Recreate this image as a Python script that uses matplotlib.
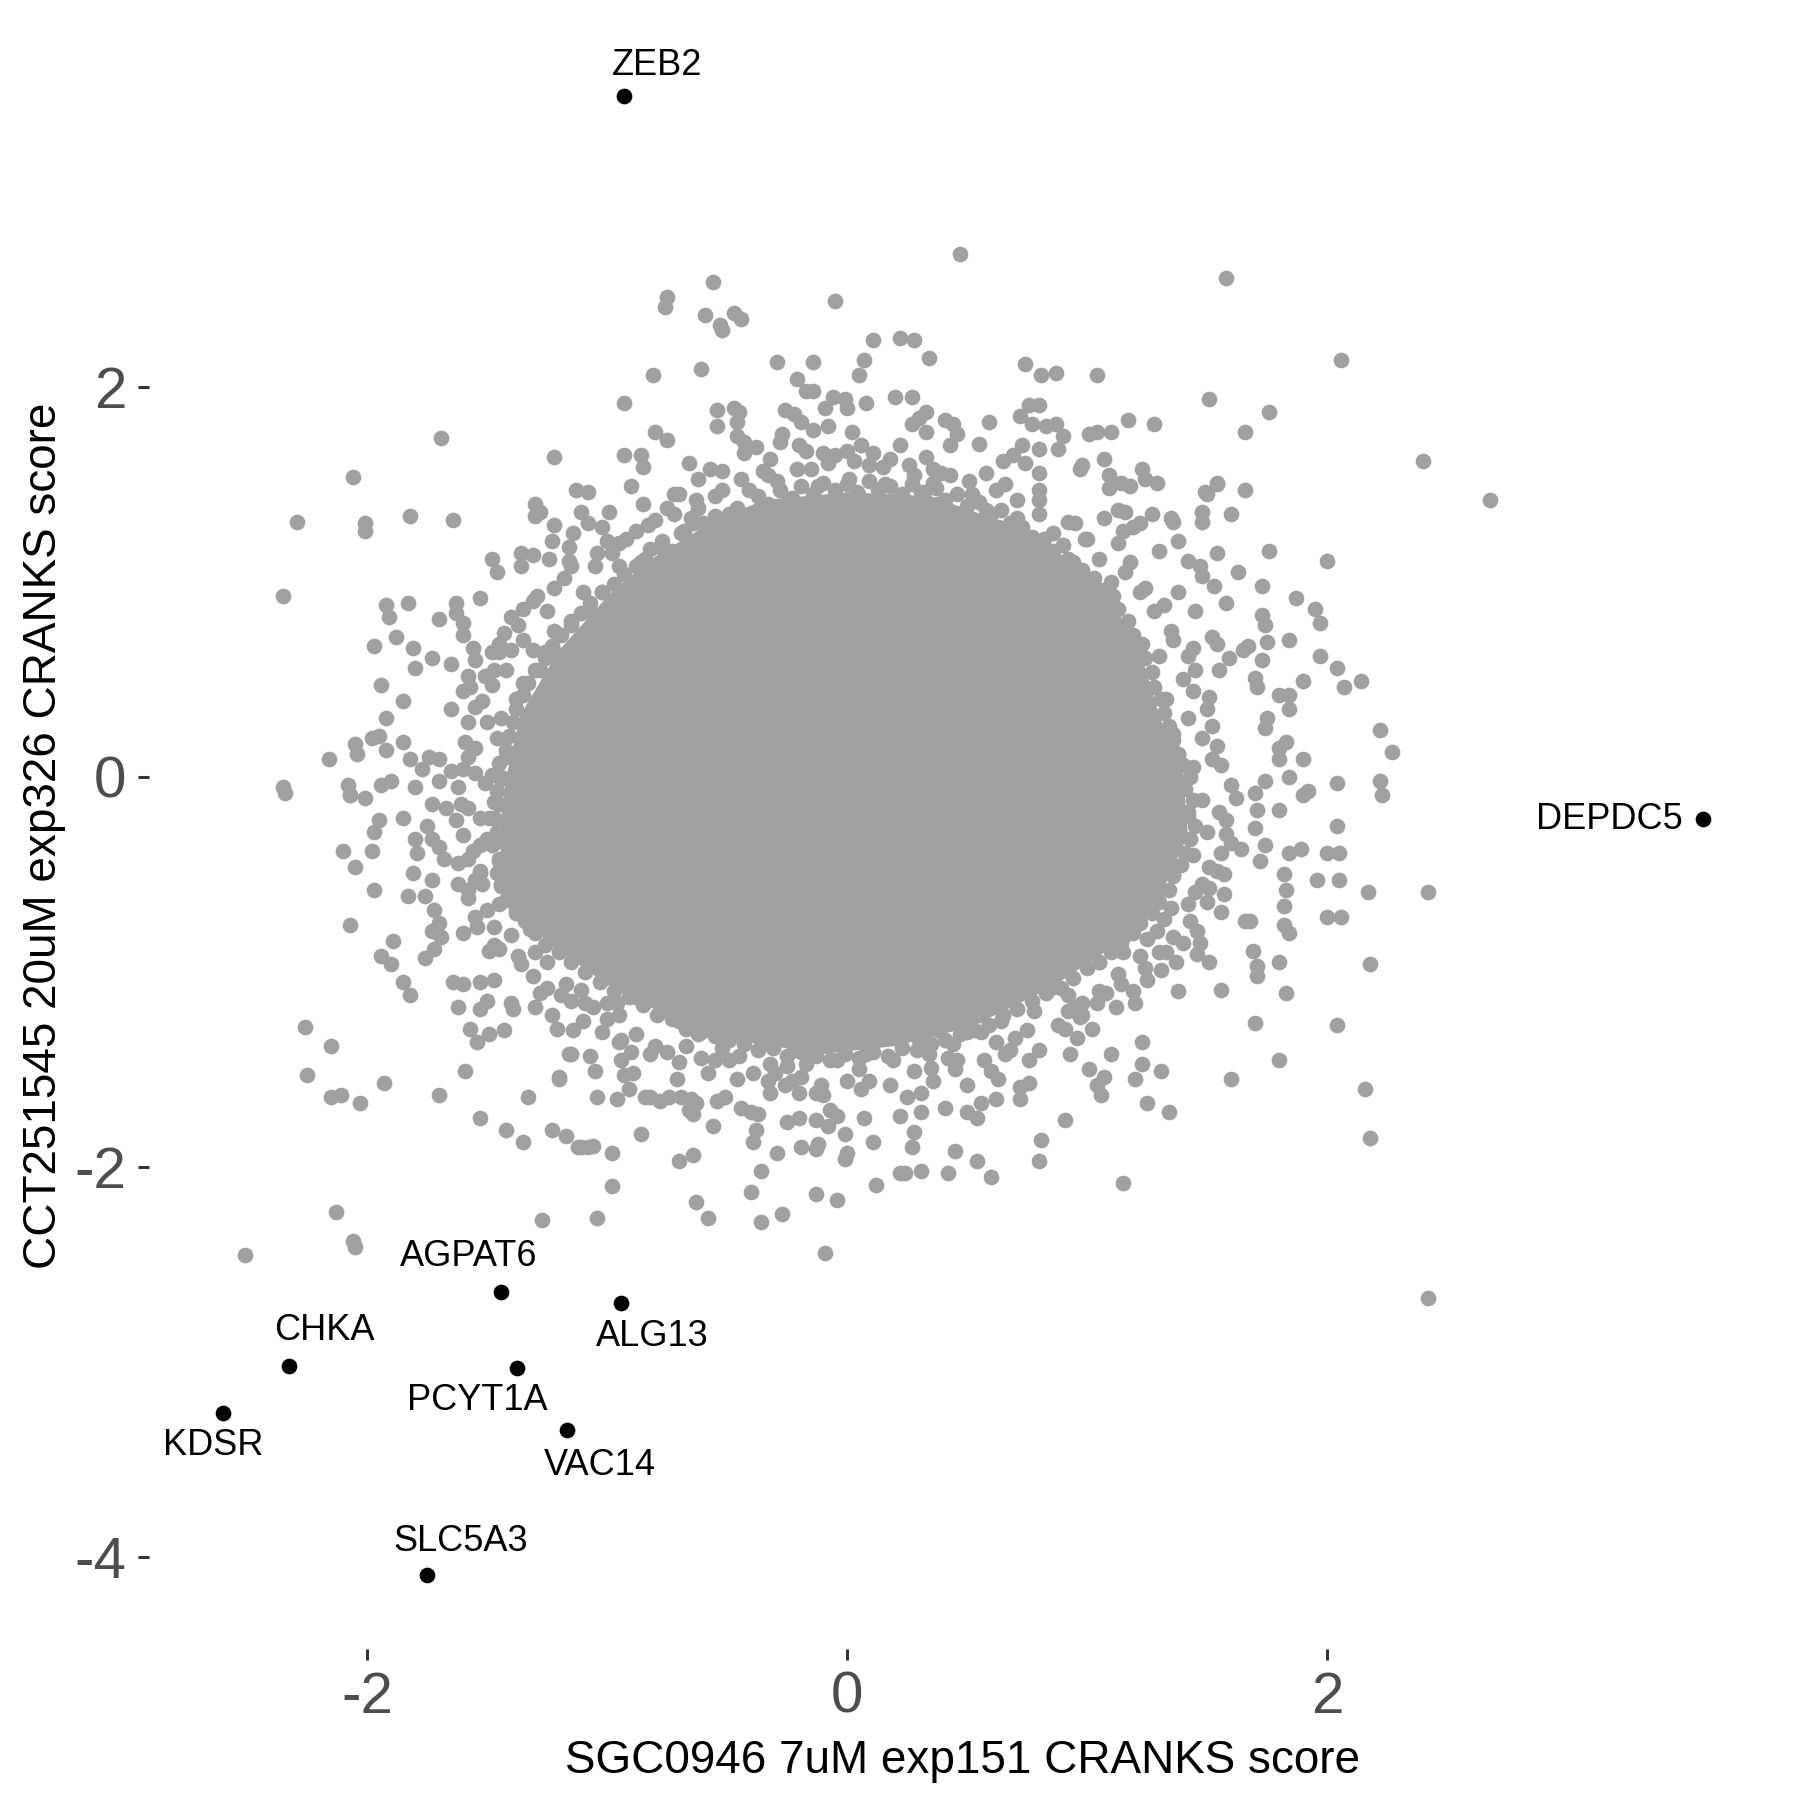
import matplotlib
matplotlib.use("Agg")
import matplotlib.pyplot as plt
import numpy as np

plt.rcParams['font.family'] = ['Liberation Sans', 'DejaVu Sans']
plt.rcParams['axes.unicode_minus'] = False

# labelled hits (x = SGC0946 score, y = CCT251545 score)
hit_genes = ["ZEB2", "DEPDC5", "AGPAT6", "ALG13", "CHKA", "PCYT1A", "KDSR", "VAC14", "SLC5A3"]
hit_x = [-0.93, 3.565, -1.44, -0.94, -2.325, -1.377, -2.60, -1.167, -1.75]
hit_y = [3.49, -0.215, -2.64, -2.70, -3.02, -3.03, -3.26, -3.35, -4.09]
# where the repelled labels ended up
label_x = [-0.79, 3.175, -1.575, -0.81, -2.18, -1.54, -2.64, -1.03, -1.61]
label_y = [3.65, -0.22, -2.46, -2.87, -2.84, -3.20, -3.43, -3.53, -3.92]

# outline of the solid grey core where the points overlap completely
core_outline = [(-0.60, 1.28), (-0.35, 1.42), (0.00, 1.46), (0.35, 1.44), (0.62, 1.32),
                (0.88, 1.15), (1.08, 0.95), (1.22, 0.65), (1.30, 0.32), (1.40, 0.02),
                (1.42, -0.30), (1.30, -0.62), (1.12, -0.86), (0.85, -1.08), (0.52, -1.28),
                (0.20, -1.38), (-0.10, -1.42), (-0.42, -1.36), (-0.66, -1.28), (-0.98, -1.08),
                (-1.24, -0.86), (-1.42, -0.62), (-1.45, -0.30), (-1.42, 0.00), (-1.36, 0.32),
                (-1.20, 0.65), (-0.98, 0.95), (-0.80, 1.13)]

# genes sitting on the ragged edge of the core
edge_pts = [(-0.82, 1.17), (-0.77, 1.21), (-0.73, 1.16), (-0.69, 1.25), (-0.64, 1.30), (-0.60, 1.24),
            (-0.55, 1.34), (-0.50, 1.31), (-0.46, 1.38), (-0.41, 1.35), (-0.37, 1.44), (-0.33, 1.40),
            (-0.28, 1.47), (-0.23, 1.43), (-0.19, 1.49), (-0.14, 1.45), (-0.10, 1.51), (-0.05, 1.47),
            (0.00, 1.50), (0.04, 1.46), (0.09, 1.52), (0.13, 1.47), (0.18, 1.49), (0.23, 1.45),
            (0.27, 1.50), (0.32, 1.46), (0.37, 1.48), (0.41, 1.42), (0.46, 1.45), (0.50, 1.39),
            (0.55, 1.41), (0.60, 1.35), (0.64, 1.37), (0.68, 1.30), (0.73, 1.28), (0.77, 1.23),
            (0.82, 1.22), (0.86, 1.16), (0.90, 1.19),
            (0.94, 1.10), (0.98, 1.06), (1.03, 1.02), (1.06, 0.96), (1.11, 0.93), (1.13, 0.86),
            (1.17, 0.80), (1.19, 0.73), (1.23, 0.68), (1.24, 0.61), (1.27, 0.54), (1.28, 0.46),
            (1.31, 0.40), (1.32, 0.33), (1.34, 0.26), (1.36, 0.19), (1.38, 0.12), (1.40, 0.06),
            (1.43, 0.00), (1.41, -0.06), (1.44, -0.12), (1.42, -0.18), (1.45, -0.25), (1.43, -0.32),
            (1.41, -0.39), (1.39, -0.45), (1.36, -0.51), (1.34, -0.58), (1.30, -0.64), (1.27, -0.70),
            (1.22, -0.75), (1.19, -0.80), (1.14, -0.85), (1.10, -0.90),
            (1.05, -0.95), (1.00, -0.98), (0.94, -1.03), (0.89, -1.08), (0.83, -1.11), (0.77, -1.15),
            (0.71, -1.19), (0.65, -1.22), (0.59, -1.27), (0.53, -1.30), (0.47, -1.32), (0.41, -1.35),
            (0.35, -1.37), (0.29, -1.40), (0.23, -1.39), (0.17, -1.43), (0.11, -1.41), (0.05, -1.44),
            (-0.01, -1.42), (-0.07, -1.45), (-0.13, -1.43), (-0.19, -1.41), (-0.25, -1.43),
            (-0.31, -1.39), (-0.37, -1.40), (-0.43, -1.37), (-0.49, -1.35), (-0.55, -1.33),
            (-0.61, -1.31), (-0.67, -1.29), (-0.73, -1.24), (-0.79, -1.22), (-0.85, -1.17),
            (-0.91, -1.13), (-0.97, -1.10), (-1.03, -1.05), (-1.09, -1.00), (-1.15, -0.95),
            (-1.20, -0.90), (-1.26, -0.86),
            (-1.30, -0.80), (-1.34, -0.74), (-1.38, -0.68), (-1.42, -0.63), (-1.44, -0.56),
            (-1.46, -0.49), (-1.45, -0.42), (-1.48, -0.35), (-1.46, -0.28), (-1.47, -0.21),
            (-1.45, -0.14), (-1.46, -0.07), (-1.44, 0.00), (-1.45, 0.07), (-1.42, 0.14), (-1.41, 0.21),
            (-1.39, 0.28), (-1.38, 0.35), (-1.35, 0.42), (-1.33, 0.48), (-1.30, 0.55), (-1.26, 0.61),
            (-1.23, 0.67), (-1.19, 0.73), (-1.15, 0.78), (-1.11, 0.84), (-1.07, 0.89), (-1.02, 0.95),
            (-0.97, 0.99), (-0.93, 1.04), (-0.88, 1.08), (-0.84, 1.12),
            (-0.72, 1.35), (-0.63, 1.42), (-0.52, 1.47), (-0.44, 1.53), (-0.33, 1.55), (-0.21, 1.58),
            (-0.08, 1.61), (0.03, 1.62), (0.15, 1.59), (0.26, 1.60), (0.39, 1.56), (0.51, 1.52),
            (0.62, 1.47), (0.71, 1.42), (0.80, 1.35), (0.92, 1.31), (0.99, 1.22), (-0.88, 1.26),
            (-0.95, 1.20), (-1.04, 1.15),
            (1.16, 1.05), (1.24, 0.97), (1.32, 0.88), (1.36, 0.70), (1.42, 0.62), (1.44, 0.44),
            (1.50, 0.35), (1.52, 0.26), (1.56, 0.06), (1.60, -0.04), (1.58, -0.22), (1.60, -0.34),
            (1.54, -0.48), (1.50, -0.64), (1.43, -0.74), (1.36, -0.82), (1.30, -0.90), (1.24, -0.98),
            (1.14, -1.06), (1.05, -1.10), (0.98, -1.22), (0.88, -1.27), (0.75, -1.30), (0.68, -1.40),
            (0.57, -1.45), (0.45, -1.50), (0.36, -1.56), (0.18, -1.58), (0.06, -1.60), (-0.11, -1.58),
            (-0.20, -1.62), (-0.33, -1.56), (-0.46, -1.55), (-0.58, -1.52), (-0.70, -1.46),
            (-0.82, -1.42), (-0.88, -1.32), (-1.00, -1.24), (-1.10, -1.25), (-1.19, -1.12),
            (-1.31, -1.02), (-1.36, -0.96),
            (-1.47, -0.86), (-1.55, -0.72), (-1.58, -0.58), (-1.62, -0.44), (-1.61, -0.14),
            (-1.58, 0.10), (-1.55, 0.36), (-1.51, 0.52), (-1.45, 0.68), (-1.37, 0.78), (-1.31, 0.90),
            (-1.22, 0.97), (-1.15, 1.08), (-1.24, 1.12), (-1.02, 1.28)]

# individual genes around the core
top_pts = [(0.47, 2.68), (-0.56, 2.54), (1.58, 2.56), (-0.75, 2.46), (-0.76, 2.41), (-0.05, 2.44),
           (-0.59, 2.37), (-0.47, 2.38), (-0.44, 2.35), (-0.53, 2.32), (-0.52, 2.29),
           (0.11, 2.24), (0.22, 2.25), (0.28, 2.24), (0.34, 2.15),
           (-0.81, 2.06), (-0.61, 2.09), (-0.29, 2.13), (-0.14, 2.13), (0.07, 2.14), (0.05, 2.06),
           (-0.21, 2.04), (-0.17, 1.98), (-0.14, 1.98),
           (0.74, 2.12), (0.81, 2.06), (0.87, 2.07), (1.04, 2.06), (2.06, 2.14),
           (-0.93, 1.92), (1.51, 1.94), (1.76, 1.87), (1.66, 1.77), (2.40, 1.62), (2.68, 1.42),
           (-1.69, 1.74), (-2.06, 1.54), (-1.22, 1.64),
           (-2.29, 1.31), (-2.01, 1.30), (-2.01, 1.26), (-1.82, 1.34), (-1.64, 1.32), (-2.35, 0.93),
           (-0.09, 1.89), (-0.06, 1.95), (-0.01, 1.94), (0.00, 1.89), (0.08, 1.92), (0.20, 1.95),
           (-0.54, 1.88), (-0.54, 1.80), (-0.47, 1.89), (-0.45, 1.87), (-0.46, 1.82),
           (-0.80, 1.77), (-0.75, 1.73),
           (-0.26, 1.88), (-0.22, 1.86), (-0.19, 1.82), (-0.14, 1.78), (-0.27, 1.76), (-0.28, 1.72),
           (-0.08, 1.80), (0.02, 1.77),
           (-0.93, 1.65), (-0.86, 1.65), (-0.85, 1.59),
           (-0.66, 1.61), (-0.62, 1.53), (-0.57, 1.58), (-0.52, 1.57),
           (-0.46, 1.75), (-0.43, 1.72), (-0.38, 1.69), (-0.43, 1.66), (-0.32, 1.63),
           (-0.20, 1.70), (-0.17, 1.67), (-0.10, 1.66), (-0.05, 1.65), (0.00, 1.67), (0.06, 1.70), (0.11, 1.66),
           (-1.13, 1.47), (-1.08, 1.46), (-1.11, 1.36), (-1.08, 1.30),
           (-1.30, 1.40), (-1.28, 1.36), (-1.30, 1.34),
           (-1.48, 1.12), (-1.46, 1.05), (-1.36, 1.15), (-1.31, 1.14), (-1.36, 1.08),
           (-1.22, 1.29), (-1.23, 1.21), (-1.14, 1.25), (-1.16, 1.18), (-1.16, 1.11),
           (-0.99, 1.36), (-1.00, 1.21), (-0.90, 1.49), (-0.85, 1.40),
           (-0.72, 1.45), (-0.70, 1.45), (-0.75, 1.38),
           (0.27, 1.95), (0.33, 1.87), (0.41, 1.83), (0.44, 1.81), (0.46, 1.76), (0.43, 1.70),
           (0.27, 1.81), (0.22, 1.70), (0.59, 1.82), (0.55, 1.71),
           (0.76, 1.91), (0.80, 1.91), (0.72, 1.85), (0.77, 1.81), (0.83, 1.80), (0.87, 1.81),
           (0.90, 1.75), (0.88, 1.68), (0.80, 1.68), (0.73, 1.70), (0.69, 1.65), (0.74, 1.61),
           (1.01, 1.76), (1.04, 1.77), (1.10, 1.77), (1.17, 1.83), (1.28, 1.81), (1.07, 1.63),
           (0.98, 1.60), (0.97, 1.58),
           (1.09, 1.55), (1.09, 1.48), (1.14, 1.51), (1.18, 1.49), (1.23, 1.58), (1.24, 1.53),
           (1.29, 1.51), (1.49, 1.46), (1.54, 1.51), (1.48, 1.36), (1.48, 1.31), (1.60, 1.35),
           (1.66, 1.47), (1.54, 1.50), (1.50, 1.45),
           (0.80, 1.56), (0.80, 1.47), (0.80, 1.42),
           (0.30, 1.84), (0.33, 1.77), (0.18, 1.63), (0.28, 1.55), (0.33, 1.64), (0.36, 1.51),
           (-0.62, 1.38), (-0.55, 1.44), (-0.49, 1.35), (-0.41, 1.47), (-0.36, 1.39), (-0.29, 1.52),
           (-0.24, 1.42), (-0.18, 1.36), (-0.12, 1.49), (-0.06, 1.41), (0.01, 1.53), (0.05, 1.44),
           (0.12, 1.38), (0.16, 1.50), (0.21, 1.42), (0.27, 1.36), (0.31, 1.46), (0.38, 1.40),
           (0.43, 1.55), (0.47, 1.33), (0.52, 1.45), (0.58, 1.37), (0.63, 1.28), (0.66, 1.50),
           (0.71, 1.33), (0.75, 1.20), (0.86, 1.25), (0.92, 1.12), (0.55, 1.27), (-0.68, 1.26),
           (-0.78, 1.18), (-0.83, 1.29), (-0.95, 1.08), (-0.88, 0.98), (-1.02, 0.95), (-1.07, 0.85),
           (-0.60, 1.30), (-0.15, 1.58), (0.09, 1.60), (0.36, 1.58), (-0.35, 1.57), (0.58, 1.56),
           (0.65, 1.62)]

right_pts = [(1.07, 1.33), (1.13, 1.37), (1.16, 1.36), (1.19, 1.28), (1.15, 1.26), (1.13, 1.20),
             (1.22, 1.30), (1.27, 1.35), (1.35, 1.33), (1.36, 1.31), (1.30, 1.16), (1.38, 1.21),
             (1.54, 1.15), (1.76, 1.16), (2.00, 1.11), (1.63, 1.05), (1.73, 0.98), (1.87, 0.92),
             (1.95, 0.86), (1.97, 0.79), (1.84, 0.70), (1.97, 0.62), (2.04, 0.56), (2.07, 0.46),
             (2.14, 0.49), (1.90, 0.49),
             (2.22, 0.24), (2.27, 0.13), (2.04, -0.03), (2.22, -0.02), (2.23, -0.09), (2.04, -0.25),
             (1.90, -0.09), (1.92, -0.07), (1.84, 0.00), (1.90, 0.09), (1.83, 0.18), (1.80, 0.15),
             (1.80, 0.09), (1.47, 1.08), (1.48, 1.03), (1.53, 0.98),
             (1.42, 1.11), (1.58, 0.89), (1.73, 0.83), (1.74, 0.78), (1.75, 0.69), (1.73, 0.60),
             (1.70, 0.51), (1.71, 0.46), (1.80, 0.42), (1.84, 0.42), (1.84, 0.35), (1.75, 0.30),
             (1.74, 0.25), (1.74, -0.02), (1.70, -0.08), (1.71, -0.17), (1.80, -0.17), (1.70, -0.26),
             (1.74, -0.35), (1.64, -0.37), (1.58, -0.29), (1.62, -0.11), (1.52, 0.09), (1.54, 0.16),
             (1.51, 0.41), (1.55, 0.55), (1.59, 0.61), (1.65, 0.65), (1.67, 0.67), (1.54, 0.68),
             (1.45, 0.55), (1.44, 0.66),
             (1.56, -0.39), (1.72, -0.43), (1.84, -0.39), (1.89, -0.37), (2.00, -0.39), (2.05, -0.39),
             (1.82, -0.50), (1.83, -0.58), (1.82, -0.66), (1.82, -0.76), (1.84, -0.80), (1.83, -1.11),
             (1.96, -0.53), (2.05, -0.53), (2.00, -0.72), (2.06, -0.72),
             (2.17, -0.59), (2.42, -0.59), (2.18, -0.96),
             (2.04, -1.27), (1.80, -1.45), (1.60, -1.55), (2.16, -1.60), (2.18, -1.85), (2.42, -2.67),
             (1.70, -1.26), (1.80, -0.95), (1.69, -0.89), (1.71, -0.97), (1.71, -1.02), (1.66, -0.74),
             (1.68, -0.74), (1.56, -1.09), (1.51, -0.95), (1.46, -0.79), (1.47, -0.85), (1.46, -0.91),
             (1.56, -0.69), (1.51, -0.57), (1.57, -0.60), (1.51, -0.46), (1.57, -0.50),
             (1.38, -1.10), (1.33, -0.90), (1.37, -0.95), (1.31, -0.99), (1.42, -0.65), (1.45, -0.59),
             (1.35, -0.67), (1.23, -1.36), (1.25, -1.67), (1.34, -1.72), (1.31, -1.51), (1.23, -1.47),
             (1.20, -1.55), (1.20, -1.16), (1.19, -1.10), (1.12, -1.18), (1.10, -1.42), (1.01, -1.50),
             (1.07, -1.54), (1.06, -1.63), (1.04, -1.58), (1.15, -2.08),
             (1.28, 0.85), (1.22, 0.95), (1.35, 0.75), (1.30, 0.62), (1.40, 0.50), (1.33, 0.40),
             (1.42, 0.30), (1.36, 0.22), (1.48, 0.20), (1.44, 0.05), (1.40, -0.05), (1.48, -0.12),
             (1.42, -0.20), (1.50, -0.28), (1.44, -0.40), (1.36, -0.50), (1.30, -0.58), (1.38, 0.95),
             (1.18, 1.10), (1.05, 1.12), (1.00, 1.22), (0.95, 1.30), (1.10, 1.00), (1.45, 0.85),
             (1.52, 0.72), (1.38, 0.12), (1.55, -0.18), (1.48, -0.55), (1.40, -0.85), (1.22, -0.92)]

bottom_pts = [(0.91, -1.76), (0.81, -1.86), (0.80, -1.97), (0.60, -2.05), (0.54, -1.97), (0.42, -2.03),
              (0.45, -1.92), (0.31, -2.02), (0.24, -2.03), (0.27, -1.90), (0.28, -1.82), (0.41, -1.70),
              (0.50, -1.72), (0.54, -1.75), (0.50, -1.58), (0.56, -1.67), (0.62, -1.65), (0.72, -1.65),
              (0.72, -1.59), (0.76, -1.57), (0.91, -1.29), (0.93, -1.42), (0.96, -1.34), (1.02, -1.29),
              (0.92, -1.20), (0.97, -1.23), (0.98, -1.16),
              (0.25, -1.31), (0.34, -1.42), (0.42, -1.44), (0.46, -1.45), (0.50, -1.31), (0.56, -1.31),
              (0.62, -1.36), (0.66, -1.42), (0.60, -1.51), (0.63, -1.55), (0.70, -1.34), (0.76, -1.45),
              (0.80, -1.40), (0.28, -1.51), (0.31, -1.62), (0.25, -1.64), (0.22, -1.74), (0.31, -1.72),
              (0.35, -1.49), (0.92, -1.12), (0.95, -1.18), (1.04, -1.16), (1.08, -1.11), (1.25, -1.04),
              (1.13, -1.01), (1.15, -0.90), (1.25, -0.83), (1.29, -0.79), (1.32, -0.73),
              (-0.71, -1.55), (-0.82, -1.64), (-0.78, -1.66), (-0.74, -1.64), (-0.69, -1.64),
              (-0.65, -1.65), (-0.63, -1.67), (-0.66, -1.71), (-0.64, -1.73), (-0.56, -1.79),
              (-0.54, -1.66), (-0.51, -1.64), (-0.44, -1.70), (-0.40, -1.72), (-0.37, -1.73),
              (-0.38, -1.81), (-0.39, -1.87), (-0.29, -1.93), (-0.36, -2.02), (-0.40, -2.13),
              (-0.36, -2.28), (-0.27, -2.24), (-0.25, -1.77), (-0.20, -1.75), (-0.13, -1.76),
              (-0.19, -1.90), (-0.13, -1.91), (-0.12, -1.88),
              (-0.13, -1.62), (-0.10, -1.63), (-0.07, -1.71), (-0.04, -1.74), (-0.08, -1.79),
              (-0.01, -1.83), (0.00, -1.93), (-0.01, -1.96), (0.07, -1.75), (0.11, -1.87), (0.12, -2.09),
              (-0.04, -2.17), (-0.13, -2.14), (-0.09, -2.44),
              (-0.32, -1.62), (-0.30, -1.52), (-0.26, -1.58), (-0.23, -1.56), (-0.19, -1.54),
              (-0.17, -1.47), (-0.14, -1.42), (-0.04, -1.45), (0.00, -1.56), (0.09, -1.56),
              (-0.64, -1.94), (-0.70, -1.97), (-0.63, -2.18), (-0.58, -2.26), (-0.86, -1.83),
              (-0.80, -1.38), (-0.75, -1.41), (-0.67, -1.38), (-0.61, -1.44), (-0.55, -1.45),
              (-0.49, -1.45), (-0.45, -1.43), (-0.39, -1.52), (-0.32, -1.47),
              (-0.98, -1.93), (-0.98, -2.10), (-1.04, -2.26), (-1.27, -2.27), (-2.05, -2.41),
              (-1.11, -1.90), (-1.06, -1.89), (0.22, -2.03),
              (-1.16, -1.42), (-1.07, -1.43), (-1.05, -1.51), (-1.20, -1.55), (-1.04, -1.64),
              (-0.96, -1.65), (-0.91, -1.60), (-0.89, -1.52), (-0.94, -1.45), (-0.95, -1.36),
              (-1.25, -1.08), (-1.28, -1.11), (-1.23, -1.22), (-1.21, -1.29), (-1.14, -1.30),
              (-1.15, -1.15), (-1.06, -1.18), (-1.02, -1.31), (-0.96, -1.16),
              (-0.55, -1.25), (-0.48, -1.33), (-0.42, -1.28), (-0.35, -1.36), (-0.28, -1.31),
              (-0.22, -1.40), (-0.15, -1.33), (-0.08, -1.38), (0.02, -1.35), (0.08, -1.42),
              (0.14, -1.33), (0.19, -1.45), (0.30, -1.35), (0.38, -1.30), (0.44, -1.37),
              (0.70, -1.12), (0.78, -1.20), (0.85, -1.08), (-0.70, -1.25), (-0.78, -1.20),
              (-0.88, -1.13), (-0.62, -1.32), (-0.52, -1.39), (0.05, -1.50), (-0.25, -1.48),
              (0.55, -1.22), (0.64, -1.25), (1.05, -0.95), (1.15, -0.82), (1.22, -0.70)]

left_pts = [(-1.53, 0.92), (-1.29, 0.93), (-1.35, 0.86), (-1.43, 0.74),
            (-1.92, 0.88), (-1.91, 0.82), (-1.83, 0.89), (-1.70, 0.81), (-1.63, 0.89), (-1.63, 0.84),
            (-1.60, 0.79), (-1.60, 0.73),
            (-1.88, 0.72), (-1.97, 0.67), (-1.81, 0.66), (-1.80, 0.56), (-1.73, 0.61), (-1.65, 0.58),
            (-1.56, 0.66), (-1.55, 0.60), (-1.60, 0.44), (-1.57, 0.46),
            (-1.94, 0.47), (-1.85, 0.39), (-1.92, 0.30),
            (-1.48, 0.64), (-1.45, 0.64), (-1.40, 0.65), (-1.35, 0.70), (-1.31, 0.65), (-1.26, 0.64),
            (-1.22, 0.64), (-1.35, 0.48), (-1.48, 0.47), (-1.52, 0.39), (-1.58, 0.28), (-1.50, 0.28),
            (-1.59, 0.18), (-1.55, 0.15),
            (-2.05, 0.17), (-2.04, 0.12), (-1.98, 0.20), (-1.95, 0.21), (-1.92, 0.14), (-1.85, 0.18),
            (-1.82, 0.09), (-1.77, 0.04), (-1.74, 0.10), (-1.70, 0.09), (-1.65, 0.03), (-1.60, 0.04),
            (-1.55, 0.02), (-1.51, -0.03), (-1.48, 0.01), (-1.44, -0.01),
            (-1.94, -0.04), (-1.90, -0.02), (-1.80, -0.05), (-1.70, -0.02), (-2.01, -0.11),
            (-2.07, -0.09), (-1.73, -0.14), (-1.67, -0.16), (-1.63, -0.22), (-1.58, -0.16),
            (-1.53, -0.21), (-1.49, -0.21), (-1.47, -0.13),
            (-1.95, -0.22), (-1.97, -0.28), (-1.85, -0.21), (-1.75, -0.25), (-1.80, -0.32),
            (-1.79, -0.39), (-1.73, -0.32), (-1.70, -0.36), (-1.68, -0.42), (-1.98, -0.38),
            (-2.05, -0.46), (-1.81, -0.49), (-1.73, -0.53), (-1.97, -0.58), (-1.83, -0.61),
            (-1.76, -0.61), (-1.58, -0.42), (-1.53, -0.35), (-1.53, -0.48), (-1.55, -0.53),
            (-1.52, -0.55), (-1.47, -0.34), (-1.43, -0.46), (-1.38, -0.35), (-1.36, -0.40),
            (-1.44, -0.55),
            (-2.16, 0.09), (-2.35, -0.05), (-2.34, -0.08), (-2.10, -0.38), (-2.08, -0.04),
            (-2.07, -0.09), (-2.26, -1.28), (-2.15, -1.38), (-2.25, -1.53), (-2.15, -1.64),
            (-2.11, -1.63), (-2.03, -1.67), (-2.07, -0.76),
            (-1.89, -0.84), (-1.94, -0.92), (-1.90, -0.96), (-1.85, -1.05), (-1.82, -1.12),
            (-1.76, -0.93), (-1.72, -0.68), (-1.70, -0.75), (-1.73, -0.79), (-1.69, -0.82),
            (-1.72, -0.88), (-1.64, -1.05), (-1.60, -1.06), (-1.53, -1.05), (-1.49, -0.89),
            (-1.47, -1.04), (-1.62, -1.18), (-1.53, -1.19), (-1.50, -1.15),
            (-1.57, -1.29), (-1.54, -1.36), (-1.49, -1.32), (-1.43, -1.30),
            (-1.59, -1.51), (-1.93, -1.57), (-1.70, -1.63), (-1.53, -1.75), (-1.42, -1.81),
            (-1.35, -1.87), (-1.33, -1.64), (-1.23, -1.81), (-1.17, -1.84), (-1.12, -1.90),
            (-1.08, -1.90), (-1.20, -1.54), (-1.15, -1.42), (-0.84, -1.64),
            (-1.40, -1.16), (-1.39, -1.19), (-1.30, -1.18), (-1.17, -1.06), (-1.11, -1.09),
            (-1.09, -1.16), (-0.94, -1.35), (-0.90, -1.41), (-0.93, -1.53), (-1.00, -1.16),
            (-0.95, -1.22), (-1.58, -0.62), (-1.53, -0.49), (-1.45, -0.43), (-1.56, -0.38),
            (-1.50, -0.32), (-1.54, -0.77), (-1.47, -0.77), (-1.40, -0.81), (-1.45, -0.88),
            (-1.37, -0.92), (-2.51, -2.45), (-2.13, -2.23), (-2.06, -2.38),
            (-1.42, 0.55), (-1.38, 0.40), (-1.44, 0.30), (-1.36, 0.20), (-1.42, 0.10), (-1.35, 0.05),
            (-1.40, -0.08), (-1.33, -0.15), (-1.42, -0.22), (-1.36, -0.28), (-1.45, -0.65),
            (-1.38, -0.70), (-1.32, -0.78), (-1.30, -0.90), (-1.25, -0.95), (-1.46, 0.20),
            (-1.28, 0.55), (-1.22, 0.75), (-1.15, 0.80), (-1.25, 0.85), (-1.10, 0.95), (-1.18, 1.02),
            (-1.05, 1.08), (-0.98, 1.15), (-0.92, 1.22), (-0.86, 1.10), (-0.80, 1.32), (-0.70, 1.15),
            (-0.65, 1.33), (-1.50, -0.68), (-1.33, -0.55), (-1.30, -0.45), (-1.47, 0.55),
            (-1.40, 0.82), (-1.58, 0.52), (-1.65, 0.35), (-1.62, -0.05), (-1.60, -0.30),
            (-1.62, -0.55), (-1.60, -0.80)]

grey = "#A0A0A0"

fig = plt.figure(figsize=(9, 9), dpi=200)
ax = fig.add_axes([0.0826, 0.0841, 0.904, 0.9035])

core = np.array(core_outline)
ax.fill(core[:, 0], core[:, 1], color=grey, lw=0, zorder=1)

cloud = np.array(edge_pts + top_pts + right_pts + bottom_pts + left_pts)
ax.scatter(cloud[:, 0], cloud[:, 1], s=32, color=grey, linewidths=0, zorder=2)
ax.scatter(hit_x, hit_y, s=32, color="black", linewidths=0, zorder=3)

for g, lx, ly in zip(hit_genes, label_x, label_y):
    ax.text(lx, ly, g, fontsize=13, ha="center", va="center", color="black", zorder=4)

ax.set_xlim(-2.91, 3.87)
ax.set_ylim(-4.47, 3.87)
ax.set_xticks([-2, 0, 2])
ax.set_yticks([-4, -2, 0, 2])
for s in ax.spines.values():
    s.set_visible(False)
ax.tick_params(axis="both", length=4, width=1.1, color="#333333",
               labelcolor="#4D4D4D", labelsize=21, pad=4)

ax.set_xlabel("SGC0946 7uM exp151 CRANKS score", fontsize=16.5, labelpad=5)
ax.set_ylabel("CCT251545 20uM exp326 CRANKS score", fontsize=16.5, labelpad=3)

fig.savefig("out.png", dpi=200, facecolor="white")
